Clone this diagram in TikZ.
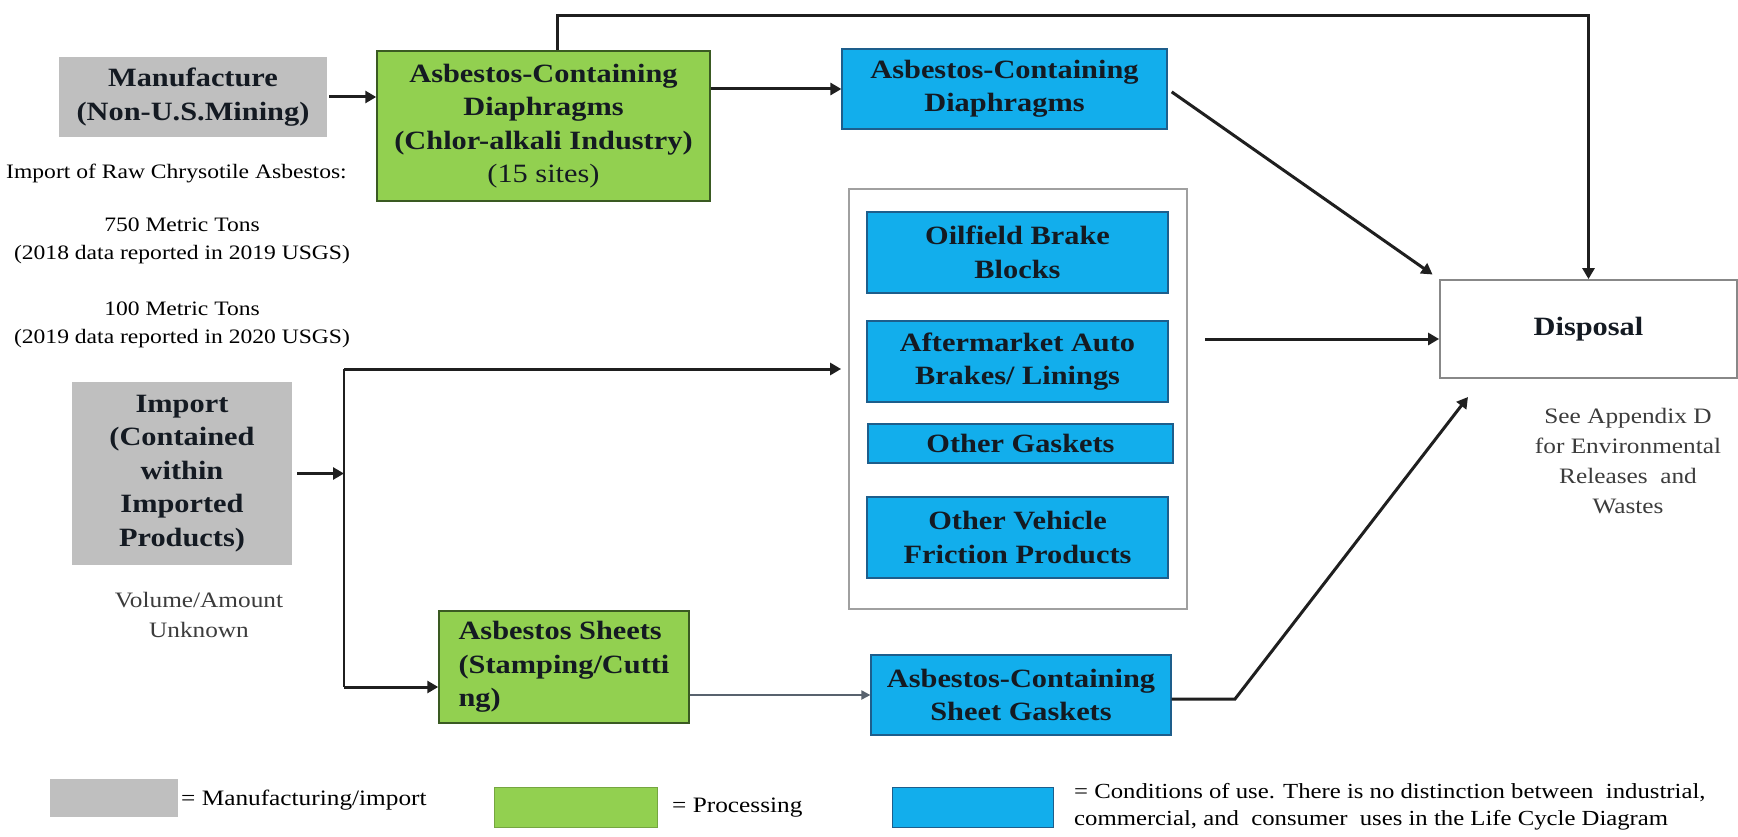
\documentclass[tikz,border=0pt]{standalone}
\usepackage{fontspec}
\setmainfont{Liberation Serif}[FakeStretch=1.15]
\usetikzlibrary{arrows.meta}
\definecolor{gbox}{HTML}{BFBFBF}
\definecolor{grn}{HTML}{92D050}
\definecolor{grnedge}{HTML}{3A5A22}
\definecolor{blu}{HTML}{12AEEC}
\definecolor{bluedge}{HTML}{1D5E8C}
\definecolor{frame}{HTML}{A0A0A0}
\definecolor{note}{HTML}{3C3C3C}
\definecolor{boxink}{HTML}{141A22}
\definecolor{thinline}{HTML}{58626E}
\begin{document}
\begin{tikzpicture}[x=1pt,y=-1pt,
  boxtext/.style={font=\fontsize{26.4}{33.5}\selectfont\bfseries, text=boxink, align=center, inner sep=0pt},
  mfg/.style={boxtext, fill=gbox},
  proc/.style={boxtext, fill=grn, draw=grnedge, line width=1.5pt},
  use/.style={boxtext, fill=blu, draw=bluedge, line width=1.2pt},
  plain/.style={font=\fontsize{22}{30}\selectfont, align=center, inner sep=0pt},
  sidetext/.style={font=\fontsize{20.5}{28}\selectfont, align=center, inner sep=0pt},
  conn/.style={line width=3pt, draw=black!88},
  arr/.style={conn, -{Triangle[length=11pt,width=12pt]}},
  thinarr/.style={line width=2pt, draw=thinline, -{Triangle[length=9pt,width=9pt]}}
]
\useasboundingbox[fill=white] (0,0) rectangle (1738,837);

% nodes
\node[mfg, minimum width=268, minimum height=80] (man) at (193,97) {Manufacture\\(Non-U.S.Mining)};
\node[proc, minimum width=333, minimum height=150] (dia) at (543.5,126) {Asbestos-Containing\\Diaphragms\\(Chlor-alkali Industry)\\{\mdseries (15 sites)}};
\node[use, minimum width=325, minimum height=80] (diab) at (1004.5,89) {Asbestos-Containing\\Diaphragms};
\node[draw=frame, line width=1.8pt, minimum width=338, minimum height=420, inner sep=0pt] (outer) at (1018,399) {};
\node[use, minimum width=301, minimum height=81] (oil) at (1017.5,252.5) {Oilfield Brake\\Blocks};
\node[use, minimum width=301, minimum height=81] (aft) at (1017.5,361.5) {Aftermarket Auto\\Brakes/ Linings};
\node[use, minimum width=305, minimum height=39] (gask) at (1020.5,443.5) {Other Gaskets};
\node[use, minimum width=301, minimum height=81] (veh) at (1017.5,537.5) {Other Vehicle\\Friction Products};
\node[boxtext, draw=frame!85!black, line width=1.8pt, fill=white, minimum width=297, minimum height=98] (disp) at (1588.5,329) {Disposal};
\node[mfg, minimum width=220, minimum height=183] (imp) at (182,473.5) {Import\\(Contained\\within\\Imported\\Products)};
\node[proc, align=left, minimum width=250, minimum height=112] (sheets) at (564,667) {Asbestos Sheets\\(Stamping/Cutti\\ng)};
\node[use, minimum width=300, minimum height=80] (sgask) at (1021,695) {Asbestos-Containing\\Sheet Gaskets};

% side texts
\node[sidetext] (imptxt) at (176.5,173) {Import of Raw Chrysotile Asbestos:};
\node[sidetext] (t750) at (182,241) {750 Metric Tons\\(2018 data reported in 2019 USGS)};
\node[sidetext] (t100) at (182,325) {100 Metric Tons\\(2019 data reported in 2020 USGS)};
\node[plain, text=note] (vol) at (199,615) {Volume/Amount\\Unknown};
\node[plain, text=note] (app) at (1628,461) {See Appendix D\\for Environmental\\Releases~ and\\Wastes};

% legend
\node[fill=gbox, minimum width=128, minimum height=38, inner sep=0pt] (lg1) at (114,798) {};
\node[plain, anchor=west] (lt1) at (181,800) {= Manufacturing/import};
\node[fill=grn, draw=grn!80!black, line width=0.8pt, minimum width=163, minimum height=40, inner sep=0pt] (lg2) at (575.5,807) {};
\node[plain, anchor=west] (lt2) at (672,808) {= Processing};
\node[fill=blu, draw=bluedge, line width=0.8pt, minimum width=161, minimum height=40, inner sep=0pt] (lg3) at (972.5,807) {};
\node[font=\fontsize{21.5}{27}\selectfont, align=left, inner sep=0pt, anchor=west] (lt3) at (1074,806.5) {= Conditions of use. There is no distinction between~ industrial,\\commercial, and~ consumer~ uses in the Life Cycle Diagram};

% coordinates
\coordinate (t1) at (557,16);
\coordinate (ftop) at (344,369);
\coordinate (fbot) at (344,687);
\coordinate (oa) at (1205,339);
\coordinate (bend) at (1235,699);
\coordinate (stip) at (1468,397);

% connectors
\draw[arr, shorten <=2pt] (man.east) -- (man.east -| dia.west);
\draw[arr] (dia.east |- diab.west) -- (diab.west);
\draw[arr] (dia.north -| t1) -- (t1) -| (disp.north);
\draw[arr, shorten >=8pt, shorten <=5pt] (diab.east) -- (disp.north west);
\draw[arr] (oa) -- (oa -| disp.west);
\draw[arr] (sgask.east |- bend) -- (bend) -- (stip);
\draw[arr, shorten <=5pt] (imp.east) -- (imp.east -| ftop);
\draw[conn, line width=2.6pt] (ftop) -- (fbot);
\draw[arr, shorten >=7pt] (ftop) -- (ftop -| outer.west);
\draw[arr] (fbot) -- (fbot -| sheets.west);
\draw[thinarr] (sheets.east |- sgask.west) -- (sgask.west);
\end{tikzpicture}
\end{document}
